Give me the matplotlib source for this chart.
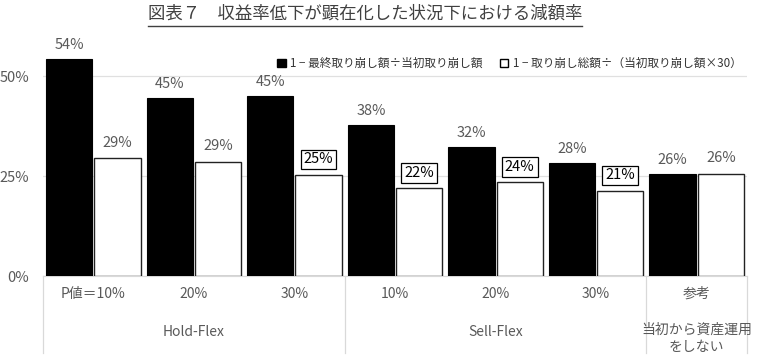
import matplotlib.pyplot as plt
import numpy as np
from matplotlib.patches import Patch

plt.rcParams['font.family'] = ['Noto Sans CJK JP', 'DejaVu Sans']

categories = ['P値＝10%', '20%', '30%', '10%', '20%', '30%', '参考']
groups = ['Hold-Flex', 'Sell-Flex', '当初から資産運用\nをしない']
group_centers = [1, 4, 6]
black_vals = [54.3, 44.6, 44.9, 37.8, 32.3, 28.3, 25.6]
white_vals = [29.4, 28.6, 25.3, 22.0, 23.4, 21.3, 25.6]
black_labels = ['54%', '45%', '45%', '38%', '32%', '28%', '26%']
white_labels = ['29%', '29%', '25%', '22%', '24%', '21%', '26%']
boxed = [False, False, True, True, True, True, False]
legend_labels = ['1 − 最終取り崩し額÷当初取り崩し額', '1 − 取り崩し総額÷（当初取り崩し額×30）']
title = '図表７　収益率低下が顕在化した状況下における減額率'

gray = '#595959'

fig = plt.figure(figsize=(7.6, 3.57), dpi=100)
ax = fig.add_axes([43 / 760, 81 / 357, 704 / 760, 240 / 357])

x = np.arange(len(categories))
w = 0.46
b1 = ax.bar(x - 0.24, black_vals, w, color='black', edgecolor='black', linewidth=0.8, zorder=3)
b2 = ax.bar(x + 0.24, white_vals, w, color='white', edgecolor='#222222', linewidth=1.0, zorder=3)

for rect, lab in zip(b1, black_labels):
    ax.annotate(lab, (rect.get_x() + rect.get_width() / 2, rect.get_height()),
                xytext=(0, 5), textcoords='offset points', ha='center', va='bottom',
                fontsize=10.5, color=gray)
for rect, lab, bx in zip(b2, white_labels, boxed):
    kw = {}
    if bx:
        kw['bbox'] = dict(boxstyle='square,pad=0.2', fc='white', ec='black', lw=0.9)
    ax.annotate(lab, (rect.get_x() + rect.get_width() / 2, rect.get_height()),
                xytext=(0, 6), textcoords='offset points', ha='center', va='bottom',
                fontsize=10.5, color='black' if bx else gray, zorder=5, **kw)

ax.set_xlim(-0.5, len(categories) - 0.5)
ax.set_ylim(0, 60)
ax.set_yticks([0, 25, 50])
ax.set_yticklabels(['0%', '25%', '50%'])
ax.tick_params(axis='y', length=0, labelsize=10.5, labelcolor=gray, pad=10)
ax.set_xticks([])
ax.yaxis.grid(True, color='#e0e0e0', linewidth=0.9, zorder=0)
for s in ['top', 'right', 'left']:
    ax.spines[s].set_visible(False)
ax.spines['bottom'].set_color('#d9d9d9')

tr = ax.get_xaxis_transform()
for xi, c in zip(x, categories):
    ax.text(xi, -0.075, c, transform=tr, ha='center', va='center', fontsize=10, color=gray)
for gc, g in zip(group_centers, groups[:2]):
    ax.text(gc, -0.235, g, transform=tr, ha='center', va='center', fontsize=10, color=gray)
ax.text(6, -0.258, groups[2], transform=tr, ha='center', va='center', fontsize=10,
        color=gray, linespacing=1.3)
for sx in [-0.5, 2.5, 5.5, 6.5]:
    ax.plot([sx, sx], [0, -0.32], transform=tr, color='#d9d9d9', lw=0.9, clip_on=False)

handles = [Patch(facecolor='black', edgecolor='black'),
           Patch(facecolor='white', edgecolor='black')]
ax.legend(handles, legend_labels, ncol=2, loc='center left', bbox_to_anchor=(0.318, 0.885),
          frameon=False, fontsize=8.4, handlelength=0.7, handleheight=0.7,
          handletextpad=0.4, columnspacing=1.5, labelcolor='#333333')

fig.text(365 / 760, 1 - 14 / 357, title, ha='center', va='center', fontsize=12.5,
         color='#404040')
fig.add_artist(plt.Line2D([148 / 760, 582 / 760], [1 - 26 / 357, 1 - 26 / 357],
                          color='#404040', lw=1.0))

fig.savefig('out.png', dpi=100)
